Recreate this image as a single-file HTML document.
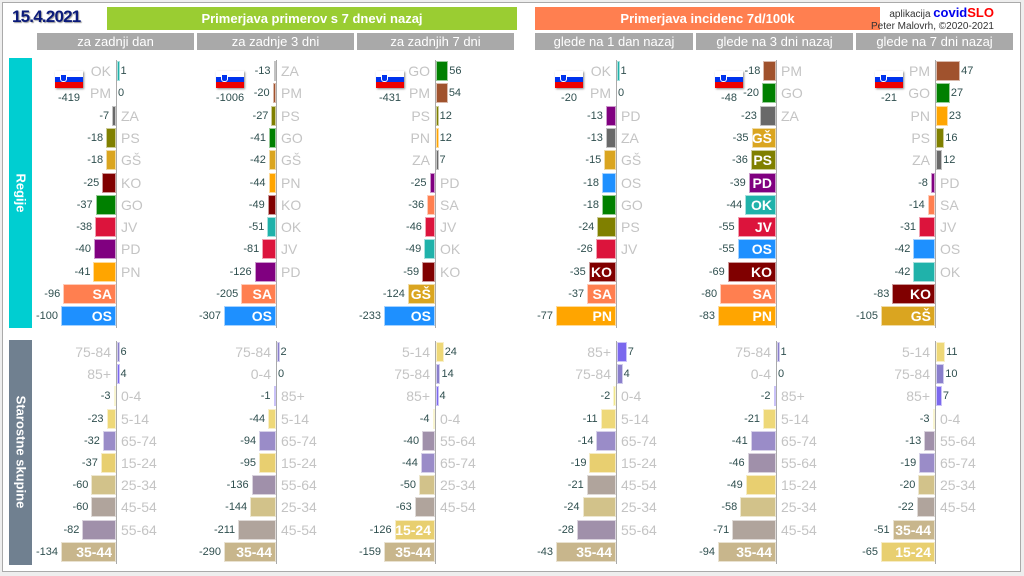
<!DOCTYPE html>
<html><head><meta charset="utf-8"><style>
body{margin:0;width:1024px;height:576px;background:#eee;position:relative;overflow:hidden;font-family:"Liberation Sans",sans-serif}
.a{position:absolute;white-space:nowrap}
#frame{position:absolute;left:2px;top:2px;width:1017px;height:568px;background:#fff;border:1px solid #aaa}
.sub{position:absolute;top:33px;height:17px;background:#a9a9a9;color:#fff;font-size:13px;line-height:17px;text-align:center}
.v{font-size:11px;color:#2f4f4f;line-height:20px}
.l{font-size:14px;color:#c4c4c4;line-height:20px}
.in{font-size:14px;color:#fff;font-weight:bold;line-height:20px}
.b{box-sizing:border-box;border:1px solid rgba(255,255,255,0.6)}
</style></head><body>
<div id="frame"></div>
<div class="a" style="left:12px;top:7px;font-size:17px;font-weight:bold;color:#0a1a7a;letter-spacing:-0.8px;text-shadow:1px 1px 1px #999">15.4.2021</div>
<div class="a" style="left:107px;top:7px;width:410px;height:23px;background:#9acd32;color:#fff;font-weight:bold;font-size:13px;line-height:23px;text-align:center">Primerjava primerov s 7 dnevi nazaj</div>
<div class="a" style="left:535px;top:7px;width:345px;height:23px;background:#ff7f50;color:#fff;font-weight:bold;font-size:13px;line-height:23px;text-align:center">Primerjava incidenc 7d/100k</div>
<div class="a" style="right:30px;top:5px;font-size:10px;color:#333">aplikacija <b style="color:#0000ee;font-size:13px">covid</b><b style="color:#ff0000;font-size:13px">SLO</b></div>
<div class="a" style="right:30px;top:21px;font-size:10px;color:#333">Peter Malovrh, ©2020-2021</div>
<div class="sub" style="left:37px;width:157px">za zadnji dan</div>
<div class="sub" style="left:197px;width:157px">za zadnje 3 dni</div>
<div class="sub" style="left:357px;width:157px">za zadnjih 7 dni</div>
<div class="sub" style="left:535px;width:158px">glede na 1 dan nazaj</div>
<div class="sub" style="left:696px;width:157px">glede na 3 dni nazaj</div>
<div class="sub" style="left:856px;width:157px">glede na 7 dni nazaj</div>
<div class="a" style="left:9px;top:58px;width:23px;height:270px;background:#00ced1"></div>
<div class="a" style="left:9px;top:340px;width:23px;height:225px;background:#708090"></div>
<div class="a" style="left:21px;top:193px;transform:translate(-50%,-50%) rotate(90deg);color:#fff;font-weight:bold;font-size:13px">Regije</div>
<div class="a" style="left:21px;top:452px;transform:translate(-50%,-50%) rotate(90deg);color:#fff;font-weight:bold;font-size:13px">Starostne skupine</div>
<div id="c"></div>
<script>
var C={OK:"#20b2aa",PM:"#a0522d",ZA:"#696969",PS:"#808000","GŠ":"#daa520",KO:"#800000",GO:"#008000",JV:"#dc143c",PD:"#800080",PN:"#ffa500",SA:"#ff7f50",OS:"#1e90ff",
"75-84":"#8a7fcc","85+":"#7b68ee","0-4":"#f0e68c","5-14":"#eed878","65-74":"#9a8cc8","15-24":"#e8cf70","25-34":"#d2c28a","45-54":"#b0a49c","55-64":"#a090aa","35-44":"#c8b68c"};
var P=[
{x:116,W:55,f:"-419",fx:55,r:"OK 1,PM 0,ZA -7,PS -18,GŠ -18,KO -25,GO -37,JV -38,PD -40,PN -41,SA -96*,OS -100*",g:"75-84 6,85+ 4,0-4 -3,5-14 -23,65-74 -32,15-24 -37,25-34 -60,45-54 -60,55-64 -82,35-44 -134*"},
{x:276,W:52,f:"-1006",fx:216,r:"ZA -13,PM -20,PS -27,GO -41,GŠ -42,PN -44,KO -49,OK -51,JV -81,PD -126,SA -205*,OS -307*",g:"75-84 2,0-4 0,85+ -1,5-14 -44,65-74 -94,15-24 -95,55-64 -136,25-34 -144,45-54 -211,35-44 -290*"},
{x:435,W:51,f:"-431",fx:376,r:"GO 56,PM 54,PS 12,PN 12,ZA 7,PD -25,SA -36,JV -46,OK -49,KO -59,GŠ -124*,OS -233*",g:"5-14 24,75-84 14,85+ 4,0-4 -4,55-64 -40,65-74 -44,25-34 -50,45-54 -63,15-24 -126*,35-44 -159*"},
{x:616,W:60,f:"-20",fx:555,r:"OK 1,PM 0,PD -13,ZA -13,GŠ -15,OS -18,GO -18,PS -24,JV -26,KO -35*,SA -37*,PN -77*",g:"85+ 7,75-84 4,0-4 -2,5-14 -11,65-74 -14,15-24 -19,45-54 -21,25-34 -24,55-64 -28,35-44 -43*"},
{x:776,W:58,f:"-48",fx:715,r:"PM -18,GO -20,ZA -23,GŠ -35*,PS -36*,PD -39*,OK -44*,JV -55*,OS -55*,KO -69*,SA -80*,PN -83*",g:"75-84 1,0-4 0,85+ -2,5-14 -21,65-74 -41,55-64 -46,15-24 -49,25-34 -58,45-54 -71,35-44 -94*"},
{x:935,W:54,f:"-21",fx:875,r:"PM 47,GO 27,PN 23,PS 16,ZA 12,PD -8,SA -14,JV -31,OS -42,OK -42,KO -83*,GŠ -105*",g:"5-14 11,75-84 10,85+ 7,0-4 -3,55-64 -13,65-74 -19,25-34 -20,45-54 -22,35-44 -51*,15-24 -65*"}];
var h="";
function el(s){h+=s;}
function sec(p,str,y0,step,top,bot){
  var rows=str.split(",").map(function(s){var t=s.split(" ");var st=t[1].indexOf("*")>=0;return {n:t[0],v:parseFloat(t[1]),st:st};});
  var mx=0;rows.forEach(function(r){if(r.v<0&&-r.v>mx)mx=-r.v;});
  var k=p.W/mx;
  el('<div class="a" style="left:'+p.x+'px;top:'+top+'px;width:1px;height:'+(bot-top)+'px;background:#aaa"></div>');
  rows.forEach(function(r,i){
    var cy=y0+i*step, t=cy-10, w=Math.max(Math.abs(r.v)*k,r.v==0?0:2.5);
    if(r.v<0){
      el('<div class="a b" style="left:'+(p.x-w)+'px;top:'+(cy-10)+'px;width:'+w+'px;height:20px;background:'+C[r.n]+'"></div>');
      el('<div class="a v" style="right:'+(1024-(p.x-w)+3)+'px;top:'+t+'px">'+r.v+'</div>');
      if(r.st) el('<div class="a in" style="right:'+(1024-p.x+4)+'px;top:'+t+'px">'+r.n+'</div>');
      else el('<div class="a l" style="left:'+(p.x+5)+'px;top:'+t+'px">'+r.n+'</div>');
    } else {
      if(w>0) el('<div class="a b" style="left:'+(p.x+1)+'px;top:'+(cy-10)+'px;width:'+w+'px;height:20px;background:'+C[r.n]+'"></div>');
      el('<div class="a v" style="left:'+(p.x+w+2)+'px;top:'+t+'px">'+r.v+'</div>');
      el('<div class="a l" style="right:'+(1024-p.x+5)+'px;top:'+t+'px">'+r.n+'</div>');
    }
  });
}
P.forEach(function(p){
  sec(p,p.r,71,22.3,60,328);
  sec(p,p.g,352,22.2,341,564);
  el('<div class="a" style="left:'+p.fx+'px;top:71px;width:28px;height:17px;box-shadow:1px 1px 2px #888"><div style="height:6px;background:#fff"></div><div style="height:5px;background:#0033ee"></div><div style="height:6px;background:#ee0000"></div><div style="position:absolute;left:5px;top:3px;width:5px;height:6px;background:#0033ee;border:1px solid #fff;border-radius:0 0 3px 3px"></div></div>');
  el('<div class="a v" style="left:'+(p.fx-6)+'px;width:40px;text-align:center;top:88px">'+p.f+'</div>');
});
document.getElementById("c").innerHTML=h;
</script>
</body></html>
